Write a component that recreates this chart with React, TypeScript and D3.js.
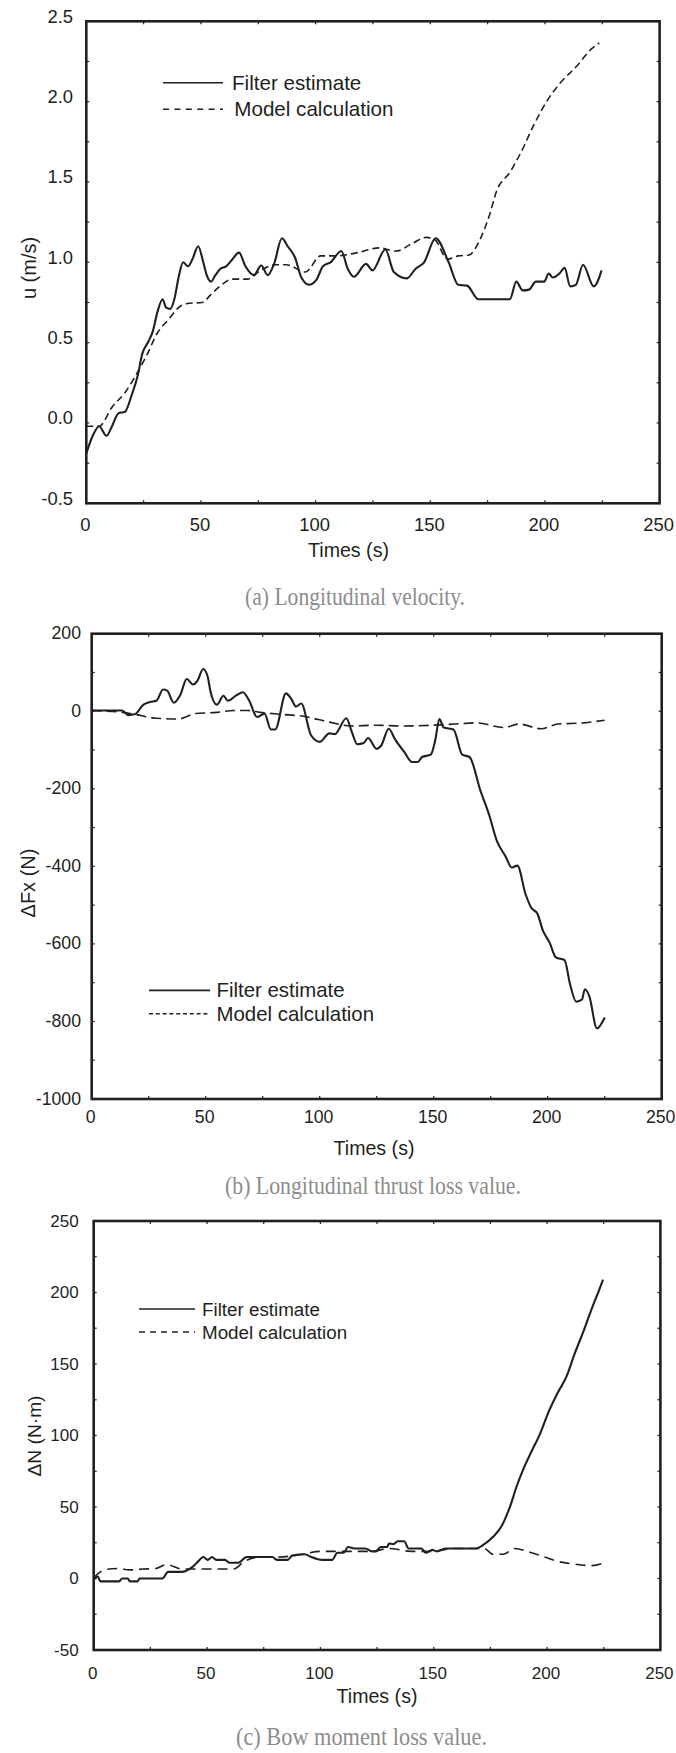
import React from 'react';
import * as d3 from 'd3';

const INK = '#231f20';
const SANS = '"Liberation Sans", Arial, sans-serif';
const SERIF = '"Liberation Serif", "Times New Roman", serif';

// (a) longitudinal velocity, [time s, u m/s]
const velFilter: [number, number][] = [
  [0, -0.19], [2.8, -0.08], [5.6, -0.02], [8.8, -0.08], [10.9, -0.03], [14, 0.06], [16.9, 0.07],
  [19.7, 0.17], [22.5, 0.3], [24.4, 0.43], [27.2, 0.51], [29, 0.57], [31, 0.69], [33.3, 0.77],
  [34.7, 0.72], [36.6, 0.71], [38.4, 0.77], [40.3, 0.91], [42.2, 1.0], [44.4, 0.975], [46.3, 1.02],
  [48.8, 1.1], [51, 1.0], [52.5, 0.92], [54.4, 0.88], [56.3, 0.92], [58.5, 0.96], [61, 0.975],
  [63.2, 1.01], [66.6, 1.06], [69.4, 0.975], [73.1, 0.92], [76.3, 0.98], [79.1, 0.92], [81.9, 0.99],
  [85.3, 1.15], [87.8, 1.1], [91, 1.03], [93.8, 0.905], [97.1, 0.86], [100.3, 0.89], [103.2, 0.975],
  [106.5, 1.0], [111.2, 1.07], [114, 0.96], [116.7, 0.91], [122, 0.99], [124.8, 0.95], [130.4, 1.08],
  [134.1, 0.94], [139.8, 0.9], [143.6, 0.96], [147.3, 1.0], [152.3, 1.15], [158, 1.0], [162.2, 0.86],
  [166, 0.855], [171, 0.77], [180, 0.77], [184.7, 0.77], [187.5, 0.88], [190.3, 0.825], [193.1, 0.83],
  [196, 0.88], [199.7, 0.88], [201.6, 0.93], [203.5, 0.905], [206.3, 0.93], [208.6, 0.965], [211, 0.85],
  [213.5, 0.86], [216.6, 0.985], [221.3, 0.85], [224.7, 0.95],
];
const velModel: [number, number][] = [
  [0, -0.02], [5.6, -0.02], [11.3, 0.1], [16.9, 0.19], [22.5, 0.32], [26.3, 0.42], [31, 0.56],
  [35.6, 0.64], [41.3, 0.73], [45, 0.745], [50.6, 0.75], [54.4, 0.8], [59, 0.86], [63.8, 0.895],
  [70.3, 0.895], [76, 0.95], [82.5, 0.985], [87.2, 0.985], [95.6, 0.94], [102.2, 1.04], [108.8, 1.04],
  [118.2, 1.06], [127.6, 1.09], [135, 1.07], [142.5, 1.12], [148.2, 1.155], [152, 1.14], [157.5, 1.02],
  [162.2, 1.04], [166.9, 1.045], [171.6, 1.14], [175.4, 1.275], [179.1, 1.45], [184.7, 1.56],
  [189.4, 1.68], [195, 1.85], [200.7, 2.0], [206.3, 2.11], [213.8, 2.22], [220.4, 2.33], [223.7, 2.365],
];

// (b) longitudinal thrust loss, [time s, dFx N]
const thrustFilter: [number, number][] = [
  [0, 2], [13.3, 2], [16.1, -10], [18.9, -8], [22.7, 17], [25.6, 24], [28.4, 27], [31.3, 56],
  [33.1, 53], [36, 22], [38.8, 41], [41.7, 83], [44.5, 69], [46.4, 79], [48.9, 109], [50.8, 91],
  [52.1, 51], [54.9, 17], [57.8, 40], [59.7, 27], [63.4, 41], [66.3, 49], [69.1, 27], [72.5, -15],
  [75.8, -6], [78.6, -47], [80.5, -47], [85.2, 46], [87.5, 32], [89.6, 12], [91.9, 20], [96.2, -62],
  [100, -79], [104.2, -57], [106.6, -59], [111.7, -18], [114, -52], [116.5, -85], [119.3, -82],
  [121.2, -69], [125, -97], [126.9, -89], [130.3, -45], [133, -72], [137.3, -107], [140.5, -131],
  [143, -131], [144.9, -118], [148.7, -112], [150.6, -77], [152.5, -20], [154.4, -42], [158.7, -47],
  [162.5, -112], [165.7, -118], [170.5, -205], [174.2, -265], [177.7, -334], [181.4, -373],
  [184.3, -403], [186.7, -398], [190.3, -472], [192.8, -507], [195.5, -522], [197.9, -566],
  [200.8, -596], [203.6, -635], [207.4, -642], [209.8, -704], [212.5, -749], [215, -744],
  [216.3, -717], [218.2, -734], [221.6, -818], [225, -790],
];
const thrustModel: [number, number][] = [
  [0, 2], [13.3, -3], [18.9, -8], [28.4, -18], [37.9, -20], [45.5, -6], [54.9, -3], [62.5, 2],
  [68.2, 2], [73.9, -3], [83.3, -8], [92.8, -13], [104.2, -28], [113.6, -38], [125, -36],
  [136.4, -38], [149.6, -36], [159.1, -33], [168.6, -30], [180.9, -42], [187.5, -33], [197, -45],
  [204.5, -33], [215.9, -30], [225, -23],
];

// (c) bow moment loss, [time s, dN N·m]
const momentFilter: [number, number][] = [
  [0, -1], [1.7, 1.5], [3, -2], [11.2, -2], [12.6, 0], [15, 0], [16, -2], [19.4, -2], [20.2, 0],
  [30.3, 0], [32.8, 4.6], [38.9, 4.6], [42.7, 7], [45.5, 11], [48.4, 15], [50.3, 13], [52.2, 15],
  [54.1, 13], [57.9, 13], [59.8, 11], [63.6, 11], [67.5, 15], [78.9, 15], [80.8, 13], [85.6, 13],
  [87.5, 16], [93.2, 17], [96, 15], [100.8, 13], [105.2, 13], [107.5, 18], [110.3, 18], [112.2, 22],
  [115.1, 21], [119.9, 21], [122.7, 19], [124.6, 19], [126.5, 22], [129.4, 22], [130.3, 24.5],
  [132.2, 24], [134.1, 26], [137, 26], [138.9, 21], [144.6, 21], [146.5, 18], [149.4, 20],
  [151.3, 19], [155.1, 21], [168.4, 21], [172.3, 24], [176.1, 29], [179.9, 36.5], [183.7, 50.5],
  [186.6, 64.5], [189.4, 76], [193.2, 89], [197, 101.5], [200.8, 117], [204.6, 129.6], [208.5, 141],
  [212.3, 157.7], [216.1, 173], [219.9, 189.5], [222.8, 201], [224.7, 209],
];
const momentModel: [number, number][] = [
  [0, 0.8], [5.5, 6.4], [10.3, 7], [16, 6], [21.7, 6.6], [27.4, 7], [32.2, 9.7], [38.9, 6.6],
  [44.6, 6.6], [61.7, 6.6], [66.5, 12], [73.2, 15], [80.8, 15], [88.4, 16], [92.2, 17], [99.8, 19],
  [111.2, 19], [122.7, 19], [130.3, 21], [139.9, 19], [149.4, 19], [158.9, 21], [172.3, 21],
  [176.1, 17], [180.8, 17], [185.6, 21], [193.2, 18], [198.9, 15], [204.6, 12], [212.3, 10],
  [219.9, 9], [225.2, 11],
];

const xTickLabels = [0, 50, 100, 150, 200, 250];
const velTicks = [-0.5, 0, 0.5, 1, 1.5, 2, 2.5];
const thrustTicks = [-1000, -800, -600, -400, -200, 0, 200];
const momentTicks = [-50, 0, 50, 100, 150, 200, 250];
const legendNames = ['Filter estimate', 'Model calculation'];

const panels = [
  {
    filter: velFilter, model: velModel, yDomain: [-0.5, 2.5], yTicks: velTicks, yMinor: 0.25,
    fmt: (v: number) => v.toFixed(1), curve: d3.curveMonotoneX,
    left: 86.3, right: 659.6, top: 21.3, bottom: 503.3,
    tickFont: 18.4, yLabRight: 73, yLabDy: 1.5, xLabBase: 530.5,
    yTitle: 'u (m/s)', yTitleX: 36, yTitleY: 268, yTitleSize: 20,
    xTitleX: 348.5, xTitleY: 557, xTitleSize: 19.6,
    dash: '7,4', legDash: '6,5.4', legX1: 163, legX2: 223, legTextX: [232, 234.3],
    legY: [82.7, 109.3], legFont: 20.6,
    caption: '(a) Longitudinal velocity.', capX: 355, capY: 605, capW: 220,
  },
  {
    filter: thrustFilter, model: thrustModel, yDomain: [-1000, 200], yTicks: thrustTicks, yMinor: 100,
    fmt: (v: number) => String(v), curve: d3.curveMonotoneX,
    left: 91.7, right: 661.7, top: 633.7, bottom: 1099,
    tickFont: 17.7, yLabRight: 81, yLabDy: 5.5, xLabBase: 1123,
    yTitle: 'ΔFx (N)', yTitleX: 35, yTitleY: 883, yTitleSize: 20,
    xTitleX: 374, xTitleY: 1155, xTitleSize: 19.6,
    dash: '10,5', legDash: '4,2.8', legX1: 149, legX2: 210, legTextX: [216.5, 216.5],
    legY: [990.4, 1013.8], legFont: 20.4,
    caption: '(b) Longitudinal thrust loss value.', capX: 373, capY: 1194, capW: 296,
  },
  {
    filter: momentFilter, model: momentModel, yDomain: [-50, 250], yTicks: momentTicks, yMinor: 25,
    fmt: (v: number) => String(v), curve: d3.curveMonotoneX,
    left: 93.7, right: 660.4, top: 1221, bottom: 1650,
    tickFont: 17, yLabRight: 78.7, yLabDy: 5.5, xLabBase: 1679,
    yTitle: 'ΔN (N·m)', yTitleX: 41, yTitleY: 1436, yTitleSize: 19.2,
    xTitleX: 377, xTitleY: 1703, xTitleSize: 19.6,
    dash: '10,6', legDash: '6,5', legX1: 139, legX2: 195, legTextX: [202, 202],
    legY: [1309, 1332], legFont: 18.8,
    caption: '(c) Bow moment loss value.', capX: 361.5, capY: 1745, capW: 251,
  },
];

function Panel({ p }: { p: any }) {
  const x = d3.scaleLinear().domain([0, 250]).range([p.left, p.right]);
  const y = d3.scaleLinear().domain(p.yDomain).range([p.bottom, p.top]);
  const line = d3.line<[number, number]>().x(d => x(d[0])).y(d => y(d[1])).curve(p.curve);
  const xMinor = d3.range(25, 250, 25);
  const yMinor = d3.range(p.yDomain[0] + p.yMinor, p.yDomain[1] - 1e-9, p.yMinor);
  const tl = 3;

  return (
    <g>
      <path d={line(p.model) || ''} fill="none" stroke={INK} strokeWidth={1.6} strokeDasharray={p.dash} />
      <path d={line(p.filter) || ''} fill="none" stroke={INK} strokeWidth={2.1} strokeLinejoin="round" />
      <rect x={p.left} y={p.top} width={p.right - p.left} height={p.bottom - p.top}
        fill="none" stroke={INK} strokeWidth={2.6} />
      {xMinor.map(v => (
        <g key={'xt' + v}>
          <line x1={x(v)} x2={x(v)} y1={p.bottom} y2={p.bottom - tl} stroke={INK} strokeWidth={1.2} />
          <line x1={x(v)} x2={x(v)} y1={p.top} y2={p.top + tl} stroke={INK} strokeWidth={1.2} />
        </g>
      ))}
      {yMinor.map(v => (
        <g key={'yt' + v}>
          <line x1={p.left} x2={p.left + tl} y1={y(v)} y2={y(v)} stroke={INK} strokeWidth={1.2} />
          <line x1={p.right} x2={p.right - tl} y1={y(v)} y2={y(v)} stroke={INK} strokeWidth={1.2} />
        </g>
      ))}
      {p.yTicks.map((v: number) => (
        <text key={'yl' + v} x={p.yLabRight} y={y(v) + p.yLabDy} textAnchor="end"
          fontSize={p.tickFont} fontFamily={SANS} fill={INK}>{p.fmt(v)}</text>
      ))}
      {xTickLabels.map(v => (
        <text key={'xl' + v} x={x(v) - 1} y={p.xLabBase} textAnchor="middle"
          fontSize={p.tickFont} fontFamily={SANS} fill={INK}>{v}</text>
      ))}
      <text x={p.xTitleX} y={p.xTitleY} textAnchor="middle" fontSize={p.xTitleSize}
        fontFamily={SANS} fill={INK}>Times (s)</text>
      <text transform={`translate(${p.yTitleX},${p.yTitleY}) rotate(-90)`} textAnchor="middle"
        fontSize={p.yTitleSize} fontFamily={SANS} fill={INK}>{p.yTitle}</text>

      <line x1={p.legX1} x2={p.legX2} y1={p.legY[0]} y2={p.legY[0]} stroke={INK} strokeWidth={1.6} />
      <line x1={p.legX1} x2={p.legX2} y1={p.legY[1]} y2={p.legY[1]} stroke={INK} strokeWidth={1.6}
        strokeDasharray={p.legDash} />
      {legendNames.map((n, i) => (
        <text key={n} x={p.legTextX[i]} y={p.legY[i] + 7} fontSize={p.legFont}
          fontFamily={SANS} fill={INK}>{n}</text>
      ))}

      <text x={p.capX} y={p.capY} textAnchor="middle" fontSize={25} fontFamily={SERIF}
        fill="#8c8c8c" textLength={p.capW} lengthAdjust="spacingAndGlyphs">{p.caption}</text>
    </g>
  );
}

export default function App() {
  return (
    <svg width={676} height={1753} style={{ position: 'absolute', left: 0, top: 0, background: '#fff' }}>
      <rect width={676} height={1753} fill="#fff" />
      {panels.map((p, i) => <Panel key={i} p={p} />)}
    </svg>
  );
}
